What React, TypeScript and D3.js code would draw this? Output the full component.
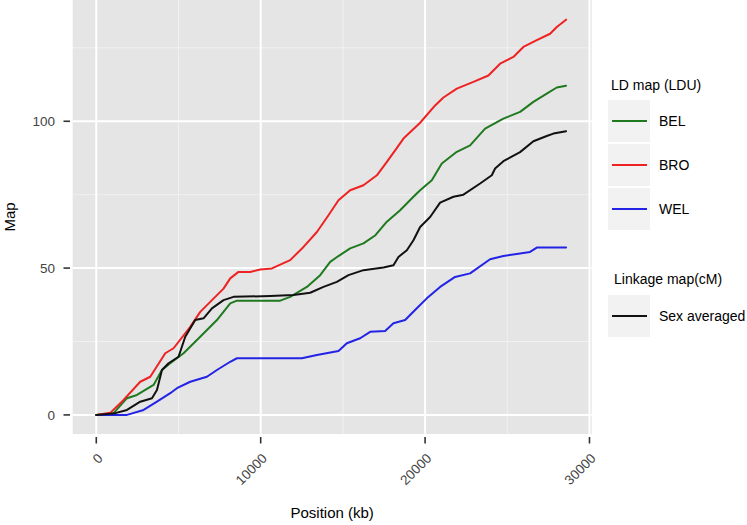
import React from 'react';
import * as d3 from 'd3';

// position (kb) / map value pairs
const belPos = [0, 1052, 1866, 2475, 3484, 3994, 4499, 5308, 6323, 7339, 8147, 8554, 11187, 11795, 12810, 13619, 14227, 14732, 15443, 16251, 16980, 17675, 18483, 19292, 19699, 20410, 21017, 21931, 22738, 23650, 24763, 25779, 26588, 27401, 28011, 28576];
const belMap = [0, 0.6, 5.7, 6.8, 10.2, 15.3, 17.6, 21, 26.6, 32.3, 38, 38.9, 38.9, 40.2, 43.6, 47.6, 52.1, 54.1, 56.7, 58.4, 61.2, 65.8, 69.7, 74.3, 76.5, 79.9, 85.6, 89.6, 91.8, 97.5, 100.9, 103.2, 106.6, 109.4, 111.5, 112.1];

const broPos = [0, 850, 1660, 2675, 3283, 4195, 4700, 5715, 6323, 6930, 7740, 8147, 8650, 9363, 9970, 10683, 11795, 12604, 13419, 14124, 14732, 15443, 16251, 17067, 17675, 18179, 18684, 19699, 20611, 21117, 21931, 22940, 23852, 24563, 25372, 25980, 26795, 27603, 28011, 28576];
const broMap = [0, 0.7, 5.1, 11.3, 13, 21, 22.7, 30, 35.1, 38.5, 43, 46.5, 48.7, 48.7, 49.5, 49.9, 52.7, 57.2, 62.3, 68, 73.1, 76.5, 78.2, 81.6, 86.2, 90.1, 94.1, 99.5, 105.4, 108.1, 111.1, 113.4, 115.6, 119.6, 121.9, 125.3, 127.6, 129.8, 132.1, 134.6];

const welPos = [0, 1866, 2878, 3690, 4499, 4905, 5715, 6730, 7339, 8147, 8554, 12506, 13419, 14732, 15240, 16049, 16659, 17571, 18076, 18787, 19498, 20105, 20915, 21826, 22738, 23954, 24763, 25779, 26385, 26795, 28576];
const welMap = [0, 0, 1.7, 4.5, 7.4, 9.1, 11.3, 13, 15.3, 18.1, 19.3, 19.3, 20.4, 21.8, 24.4, 26.1, 28.3, 28.6, 31.2, 32.3, 36.3, 39.7, 43.6, 47, 48.2, 53, 54.1, 55, 55.5, 57, 57];

const sexPos = [0, 1155, 1866, 2675, 3387, 3690, 3994, 4396, 5004, 5411, 6019, 6524, 7035, 7740, 8348, 10580, 11996, 13011, 13820, 14634, 15340, 16251, 17468, 18076, 18380, 18891, 19292, 19699, 20307, 20915, 21725, 22332, 23347, 24058, 24259, 24763, 25779, 26588, 27401, 27806, 28576];
const sexMap = [0, 0.6, 1.7, 4.5, 5.7, 8.5, 15.3, 17.6, 19.8, 26.6, 32.3, 32.9, 36.3, 39.1, 40.2, 40.5, 40.8, 41.6, 43.6, 45.3, 47.6, 49.3, 50.2, 51, 53.8, 56.1, 59.5, 64, 67.4, 72.3, 74.3, 75, 78.8, 81.6, 83.9, 86.4, 89.5, 93.2, 95, 95.8, 96.6];

const xTicks = [0, 10000, 20000, 30000];
const xMinor = [5000, 15000, 25000];
const yTicks = [0, 50, 100];
const yMinor = [25, 75, 125];

const ldLabels = ['BEL', 'BRO', 'WEL'];
const linkLabels = ['Sex averaged'];

const FONT = '"Liberation Sans", Arial, Helvetica, sans-serif';

const series = [
  { pos: belPos, val: belMap, color: '#1f7a1f' },
  { pos: broPos, val: broMap, color: '#ee2222' },
  { pos: welPos, val: welMap, color: '#2323e6' },
  { pos: sexPos, val: sexMap, color: '#111111' },
];

export default function App() {
  const width = 747, height = 525;
  const panel = { left: 72.7, right: 591.7, top: 0, bottom: 434 };

  const x = d3.scaleLinear().domain([-1435, 30135]).range([panel.left, panel.right]);
  const y = d3.scaleLinear().domain([-6.5, 141.3]).range([panel.bottom, panel.top]);

  const line = d3.line<[number, number]>()
    .x(d => x(d[0]))
    .y(d => y(d[1]));

  const ldColors = [series[0].color, series[1].color, series[2].color];

  return (
    <svg width={width} height={height} style={{ position: 'absolute', left: 0, top: 0, background: '#fff' }}>
      {/* panel */}
      <rect x={panel.left} y={panel.top} width={panel.right - panel.left} height={panel.bottom - panel.top} fill="#e5e5e5" />
      {yMinor.map(t => (
        <line key={'ym' + t} x1={panel.left} x2={panel.right} y1={y(t)} y2={y(t)} stroke="#f2f2f2" strokeWidth={0.9} />
      ))}
      {xMinor.map(t => (
        <line key={'xm' + t} x1={x(t)} x2={x(t)} y1={panel.top} y2={panel.bottom} stroke="#f2f2f2" strokeWidth={0.9} />
      ))}
      {yTicks.map(t => (
        <line key={'yg' + t} x1={panel.left} x2={panel.right} y1={y(t)} y2={y(t)} stroke="#fff" strokeWidth={2} />
      ))}
      {xTicks.map(t => (
        <line key={'xg' + t} x1={x(t)} x2={x(t)} y1={panel.top} y2={panel.bottom} stroke="#fff" strokeWidth={2} />
      ))}

      {/* lines */}
      {series.map((s, i) => (
        <path key={i} d={line(s.pos.map((p, j) => [p, s.val[j]] as [number, number])) || ''}
          fill="none" stroke={s.color} strokeWidth={2} strokeLinejoin="round" strokeLinecap="round" />
      ))}

      {/* y axis */}
      {yTicks.map(t => (
        <g key={'yt' + t}>
          <line x1={63.5} x2={70} y1={y(t)} y2={y(t)} stroke="#333" strokeWidth={1.6} />
          <text x={55} y={y(t)} dy="0.35em" textAnchor="end" fontFamily={FONT} fontSize={13.5} fill="#444">{t}</text>
        </g>
      ))}
      <text transform={`translate(15,${(panel.top + panel.bottom) / 2}) rotate(-90)`} textAnchor="middle"
        fontFamily={FONT} fontSize={15} fill="#000">Map</text>

      {/* x axis */}
      {xTicks.map(t => (
        <g key={'xt' + t}>
          <line x1={x(t)} x2={x(t)} y1={437} y2={443.5} stroke="#333" strokeWidth={1.6} />
          <text transform={`translate(${x(t) + 4},456) rotate(-45)`} dominantBaseline="central" textAnchor="end"
            fontFamily={FONT} fontSize={13.5} fill="#444">{t}</text>
        </g>
      ))}
      <text x={(panel.left + panel.right) / 2} y={518} textAnchor="middle" fontFamily={FONT} fontSize={15} fill="#000">Position (kb)</text>

      {/* legend: LD map */}
      <text x={611} y={85} dominantBaseline="central" fontFamily={FONT} fontSize={14} fill="#000">LD map (LDU)</text>
      {ldLabels.map((lab, i) => {
        const cy = 121 + i * 44;
        return (
          <g key={lab}>
            <rect x={608} y={cy - 21} width={42} height={42} fill="#f2f2f2" />
            <line x1={612} x2={647} y1={cy} y2={cy} stroke={ldColors[i]} strokeWidth={2} />
            <text x={659} y={cy} dominantBaseline="central" fontFamily={FONT} fontSize={14} fill="#000">{lab}</text>
          </g>
        );
      })}

      {/* legend: linkage map */}
      <text x={614} y={279} dominantBaseline="central" fontFamily={FONT} fontSize={14} fill="#000">Linkage map(cM)</text>
      {linkLabels.map((lab, i) => {
        const cy = 316 + i * 44;
        return (
          <g key={lab}>
            <rect x={608} y={cy - 21} width={42} height={42} fill="#f2f2f2" />
            <line x1={612} x2={647} y1={cy} y2={cy} stroke={series[3].color} strokeWidth={2} />
            <text x={659} y={cy} dominantBaseline="central" fontFamily={FONT} fontSize={14} fill="#000">{lab}</text>
          </g>
        );
      })}
    </svg>
  );
}
